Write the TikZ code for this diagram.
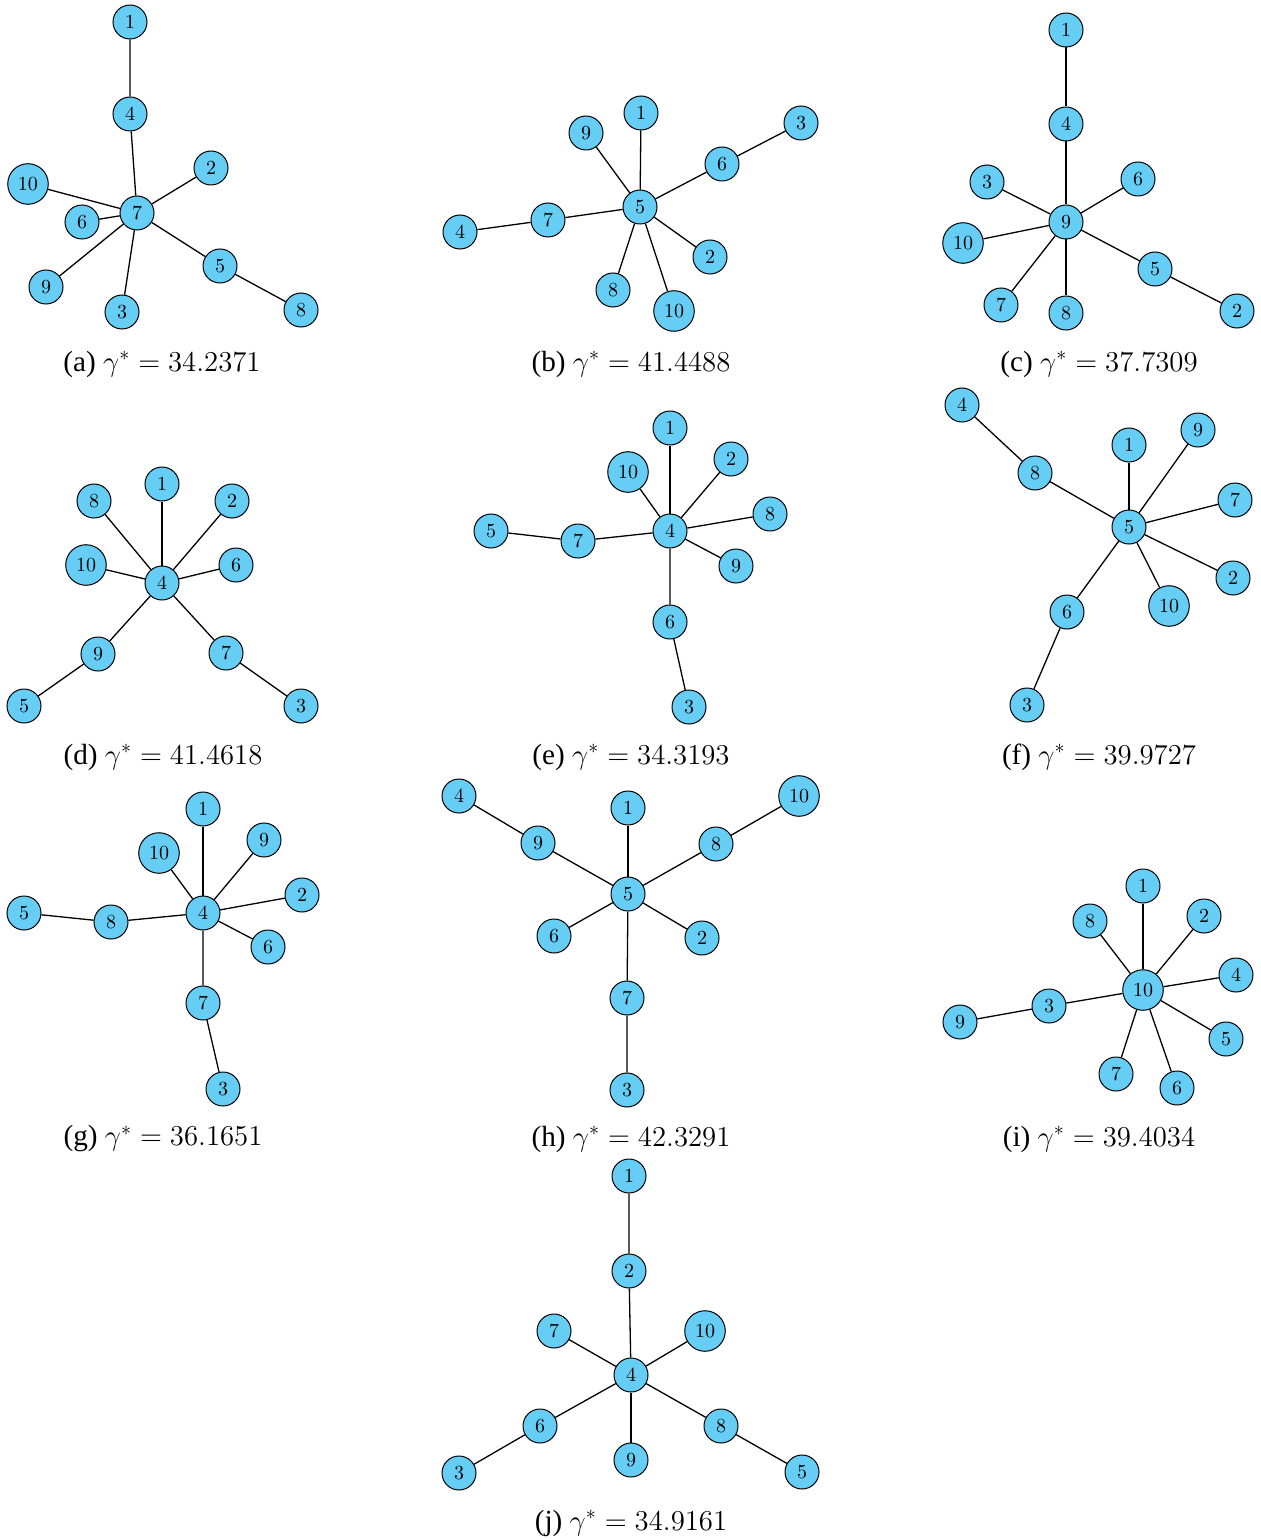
\documentclass[tikz,border=0pt]{standalone}
\usepackage{amsmath}
\usepackage{amssymb}
\usepackage[no-math]{fontspec}
\setmainfont{Liberation Serif}
\usepackage{tikz}
\usepackage{xcolor}
\definecolor{vblue}{RGB}{102,206,245}

\begin{document}
\begin{tikzpicture}[x=0.5pt,y=-0.5pt,
    vtx/.style={circle,draw,fill=vblue,line width=0.5pt,inner sep=3pt,minimum size=17pt,font=\fontsize{10}{12}\selectfont},
    subcap/.style={font=\fontsize{14.6}{17}\selectfont},
    every path/.style={line width=0.65pt}]
  \useasboundingbox (0,0) rectangle (1260,1540);
  % (a)
  \node[vtx] (a1) at (130,22) {$1$};
  \node[vtx] (a4) at (130,114) {$4$};
  \node[vtx] (a7) at (137,213) {$7$};
  \node[vtx] (a2) at (211,168) {$2$};
  \node[vtx] (a10) at (28,184) {$10$};
  \node[vtx] (a6) at (82,222) {$6$};
  \node[vtx] (a5) at (220,266) {$5$};
  \node[vtx] (a8) at (301,310) {$8$};
  \node[vtx] (a9) at (46,287) {$9$};
  \node[vtx] (a3) at (122,312) {$3$};
  \draw (a1) -- (a4) -- (a7);
  \draw (a7) -- (a5) -- (a8);
  \draw (a7) -- (a2);
  \draw (a7) -- (a10);
  \draw (a7) -- (a6);
  \draw (a7) -- (a9);
  \draw (a7) -- (a3);
  \node[subcap] (capa) at (162,364) {(a) $\gamma^* = 34.2371$};
  % (b)
  \node[vtx] (b1) at (641,113) {$1$};
  \node[vtx] (b9) at (586,133) {$9$};
  \node[vtx] (b3) at (801,123) {$3$};
  \node[vtx] (b6) at (722,164) {$6$};
  \node[vtx] (b5) at (640,207) {$5$};
  \node[vtx] (b7) at (548,220) {$7$};
  \node[vtx] (b4) at (460,232) {$4$};
  \node[vtx] (b2) at (710,257) {$2$};
  \node[vtx] (b8) at (613,290) {$8$};
  \node[vtx] (b10) at (674,311) {$10$};
  \draw (b5) -- (b6) -- (b3);
  \draw (b5) -- (b7) -- (b4);
  \draw (b5) -- (b1);
  \draw (b5) -- (b9);
  \draw (b5) -- (b2);
  \draw (b5) -- (b8);
  \draw (b5) -- (b10);
  \node[subcap] (capb) at (631,364) {(b) $\gamma^* = 41.4488$};
  % (c)
  \node[vtx] (c1) at (1066,30) {$1$};
  \node[vtx] (c4) at (1066,124) {$4$};
  \node[vtx] (c6) at (1138,179) {$6$};
  \node[vtx] (c3) at (987,182) {$3$};
  \node[vtx] (c9) at (1066,222) {$9$};
  \node[vtx] (c10) at (963,243) {$10$};
  \node[vtx] (c5) at (1155,269) {$5$};
  \node[vtx] (c2) at (1237,311) {$2$};
  \node[vtx] (c7) at (1001,305) {$7$};
  \node[vtx] (c8) at (1066,313) {$8$};
  \draw (c1) -- (c4) -- (c9);
  \draw (c9) -- (c5) -- (c2);
  \draw (c9) -- (c6);
  \draw (c9) -- (c3);
  \draw (c9) -- (c10);
  \draw (c9) -- (c7);
  \draw (c9) -- (c8);
  \node[subcap] (capc) at (1099,364) {(c) $\gamma^* = 37.7309$};
  % (d)
  \node[vtx] (d1) at (162,484) {$1$};
  \node[vtx] (d8) at (94,501) {$8$};
  \node[vtx] (d2) at (232,501) {$2$};
  \node[vtx] (d10) at (86,565) {$10$};
  \node[vtx] (d6) at (236,565) {$6$};
  \node[vtx] (d4) at (162,583) {$4$};
  \node[vtx] (d9) at (98,654) {$9$};
  \node[vtx] (d7) at (226,653) {$7$};
  \node[vtx] (d5) at (24,706) {$5$};
  \node[vtx] (d3) at (301,706) {$3$};
  \draw (d4) -- (d9) -- (d5);
  \draw (d4) -- (d7) -- (d3);
  \draw (d4) -- (d1);
  \draw (d4) -- (d8);
  \draw (d4) -- (d2);
  \draw (d4) -- (d10);
  \draw (d4) -- (d6);
  \node[subcap] (capd) at (163,757) {(d) $\gamma^* = 41.4618$};
  % (e)
  \node[vtx] (e1) at (670,428) {$1$};
  \node[vtx] (e2) at (731,459) {$2$};
  \node[vtx] (e10) at (628,472) {$10$};
  \node[vtx] (e8) at (770,514) {$8$};
  \node[vtx] (e5) at (491,531) {$5$};
  \node[vtx] (e4) at (670,531) {$4$};
  \node[vtx] (e7) at (578,541) {$7$};
  \node[vtx] (e9) at (736,566) {$9$};
  \node[vtx] (e6) at (670,622) {$6$};
  \node[vtx] (e3) at (689,707) {$3$};
  \draw (e4) -- (e7) -- (e5);
  \draw (e4) -- (e6) -- (e3);
  \draw (e4) -- (e1);
  \draw (e4) -- (e2);
  \draw (e4) -- (e10);
  \draw (e4) -- (e8);
  \draw (e4) -- (e9);
  \node[subcap] (cape) at (631,757) {(e) $\gamma^* = 34.3193$};
  % (f)
  \node[vtx] (f4) at (962,405) {$4$};
  \node[vtx] (f9) at (1198,430) {$9$};
  \node[vtx] (f1) at (1129,445) {$1$};
  \node[vtx] (f8) at (1035,473) {$8$};
  \node[vtx] (f7) at (1235,500) {$7$};
  \node[vtx] (f5) at (1129,527) {$5$};
  \node[vtx] (f2) at (1233,578) {$2$};
  \node[vtx] (f10) at (1169,606) {$10$};
  \node[vtx] (f6) at (1067,612) {$6$};
  \node[vtx] (f3) at (1027,705) {$3$};
  \draw (f4) -- (f8) -- (f5);
  \draw (f5) -- (f6) -- (f3);
  \draw (f5) -- (f1);
  \draw (f5) -- (f9);
  \draw (f5) -- (f7);
  \draw (f5) -- (f2);
  \draw (f5) -- (f10);
  \node[subcap] (capf) at (1099,757) {(f) $\gamma^* = 39.9727$};
  % (g)
  \node[vtx] (g1) at (203,809) {$1$};
  \node[vtx] (g9) at (264,840) {$9$};
  \node[vtx] (g10) at (159,853) {$10$};
  \node[vtx] (g2) at (302,895) {$2$};
  \node[vtx] (g5) at (24,913) {$5$};
  \node[vtx] (g4) at (203,913) {$4$};
  \node[vtx] (g8) at (111,922) {$8$};
  \node[vtx] (g6) at (268,947) {$6$};
  \node[vtx] (g7) at (203,1003) {$7$};
  \node[vtx] (g3) at (223,1089) {$3$};
  \draw (g4) -- (g8) -- (g5);
  \draw (g4) -- (g7) -- (g3);
  \draw (g4) -- (g1);
  \draw (g4) -- (g9);
  \draw (g4) -- (g10);
  \draw (g4) -- (g2);
  \draw (g4) -- (g6);
  \node[subcap] (capg) at (163,1139) {(g) $\gamma^* = 36.1651$};
  % (h)
  \node[vtx] (h4) at (459,796) {$4$};
  \node[vtx] (h10) at (799,796) {$10$};
  \node[vtx] (h1) at (628,808) {$1$};
  \node[vtx] (h9) at (538,843) {$9$};
  \node[vtx] (h8) at (716,844) {$8$};
  \node[vtx] (h5) at (628,894) {$5$};
  \node[vtx] (h6) at (554,936) {$6$};
  \node[vtx] (h2) at (702,938) {$2$};
  \node[vtx] (h7) at (627,998) {$7$};
  \node[vtx] (h3) at (627,1090) {$3$};
  \draw (h4) -- (h9) -- (h5);
  \draw (h5) -- (h8) -- (h10);
  \draw (h5) -- (h7) -- (h3);
  \draw (h5) -- (h1);
  \draw (h5) -- (h6);
  \draw (h5) -- (h2);
  \node[subcap] (caph) at (631,1139) {(h) $\gamma^* = 42.3291$};
  % (i)
  \node[vtx] (i1) at (1143,886) {$1$};
  \node[vtx] (i2) at (1204,916) {$2$};
  \node[vtx] (i8) at (1090,921) {$8$};
  \node[vtx] (i4) at (1236,975) {$4$};
  \node[vtx] (i10) at (1143,990) {$10$};
  \node[vtx] (i3) at (1049,1006) {$3$};
  \node[vtx] (i9) at (960,1022) {$9$};
  \node[vtx] (i5) at (1226,1039) {$5$};
  \node[vtx] (i7) at (1116,1074) {$7$};
  \node[vtx] (i6) at (1177,1088) {$6$};
  \draw (i10) -- (i3) -- (i9);
  \draw (i10) -- (i1);
  \draw (i10) -- (i2);
  \draw (i10) -- (i8);
  \draw (i10) -- (i4);
  \draw (i10) -- (i5);
  \draw (i10) -- (i7);
  \draw (i10) -- (i6);
  \node[subcap] (capi) at (1099,1139) {(i) $\gamma^* = 39.4034$};
  % (j)
  \node[vtx] (j1) at (629,1176) {$1$};
  \node[vtx] (j2) at (629,1271) {$2$};
  \node[vtx] (j7) at (554,1331) {$7$};
  \node[vtx] (j10) at (705,1331) {$10$};
  \node[vtx] (j4) at (631,1375) {$4$};
  \node[vtx] (j8) at (721,1426) {$8$};
  \node[vtx] (j6) at (540,1426) {$6$};
  \node[vtx] (j9) at (631,1460) {$9$};
  \node[vtx] (j3) at (459,1473) {$3$};
  \node[vtx] (j5) at (802,1472) {$5$};
  \draw (j1) -- (j2) -- (j4);
  \draw (j4) -- (j8) -- (j5);
  \draw (j4) -- (j6) -- (j3);
  \draw (j4) -- (j7);
  \draw (j4) -- (j10);
  \draw (j4) -- (j9);
  \node[subcap] (capj) at (631,1523) {(j) $\gamma^* = 34.9161$};
\end{tikzpicture}
\end{document}
